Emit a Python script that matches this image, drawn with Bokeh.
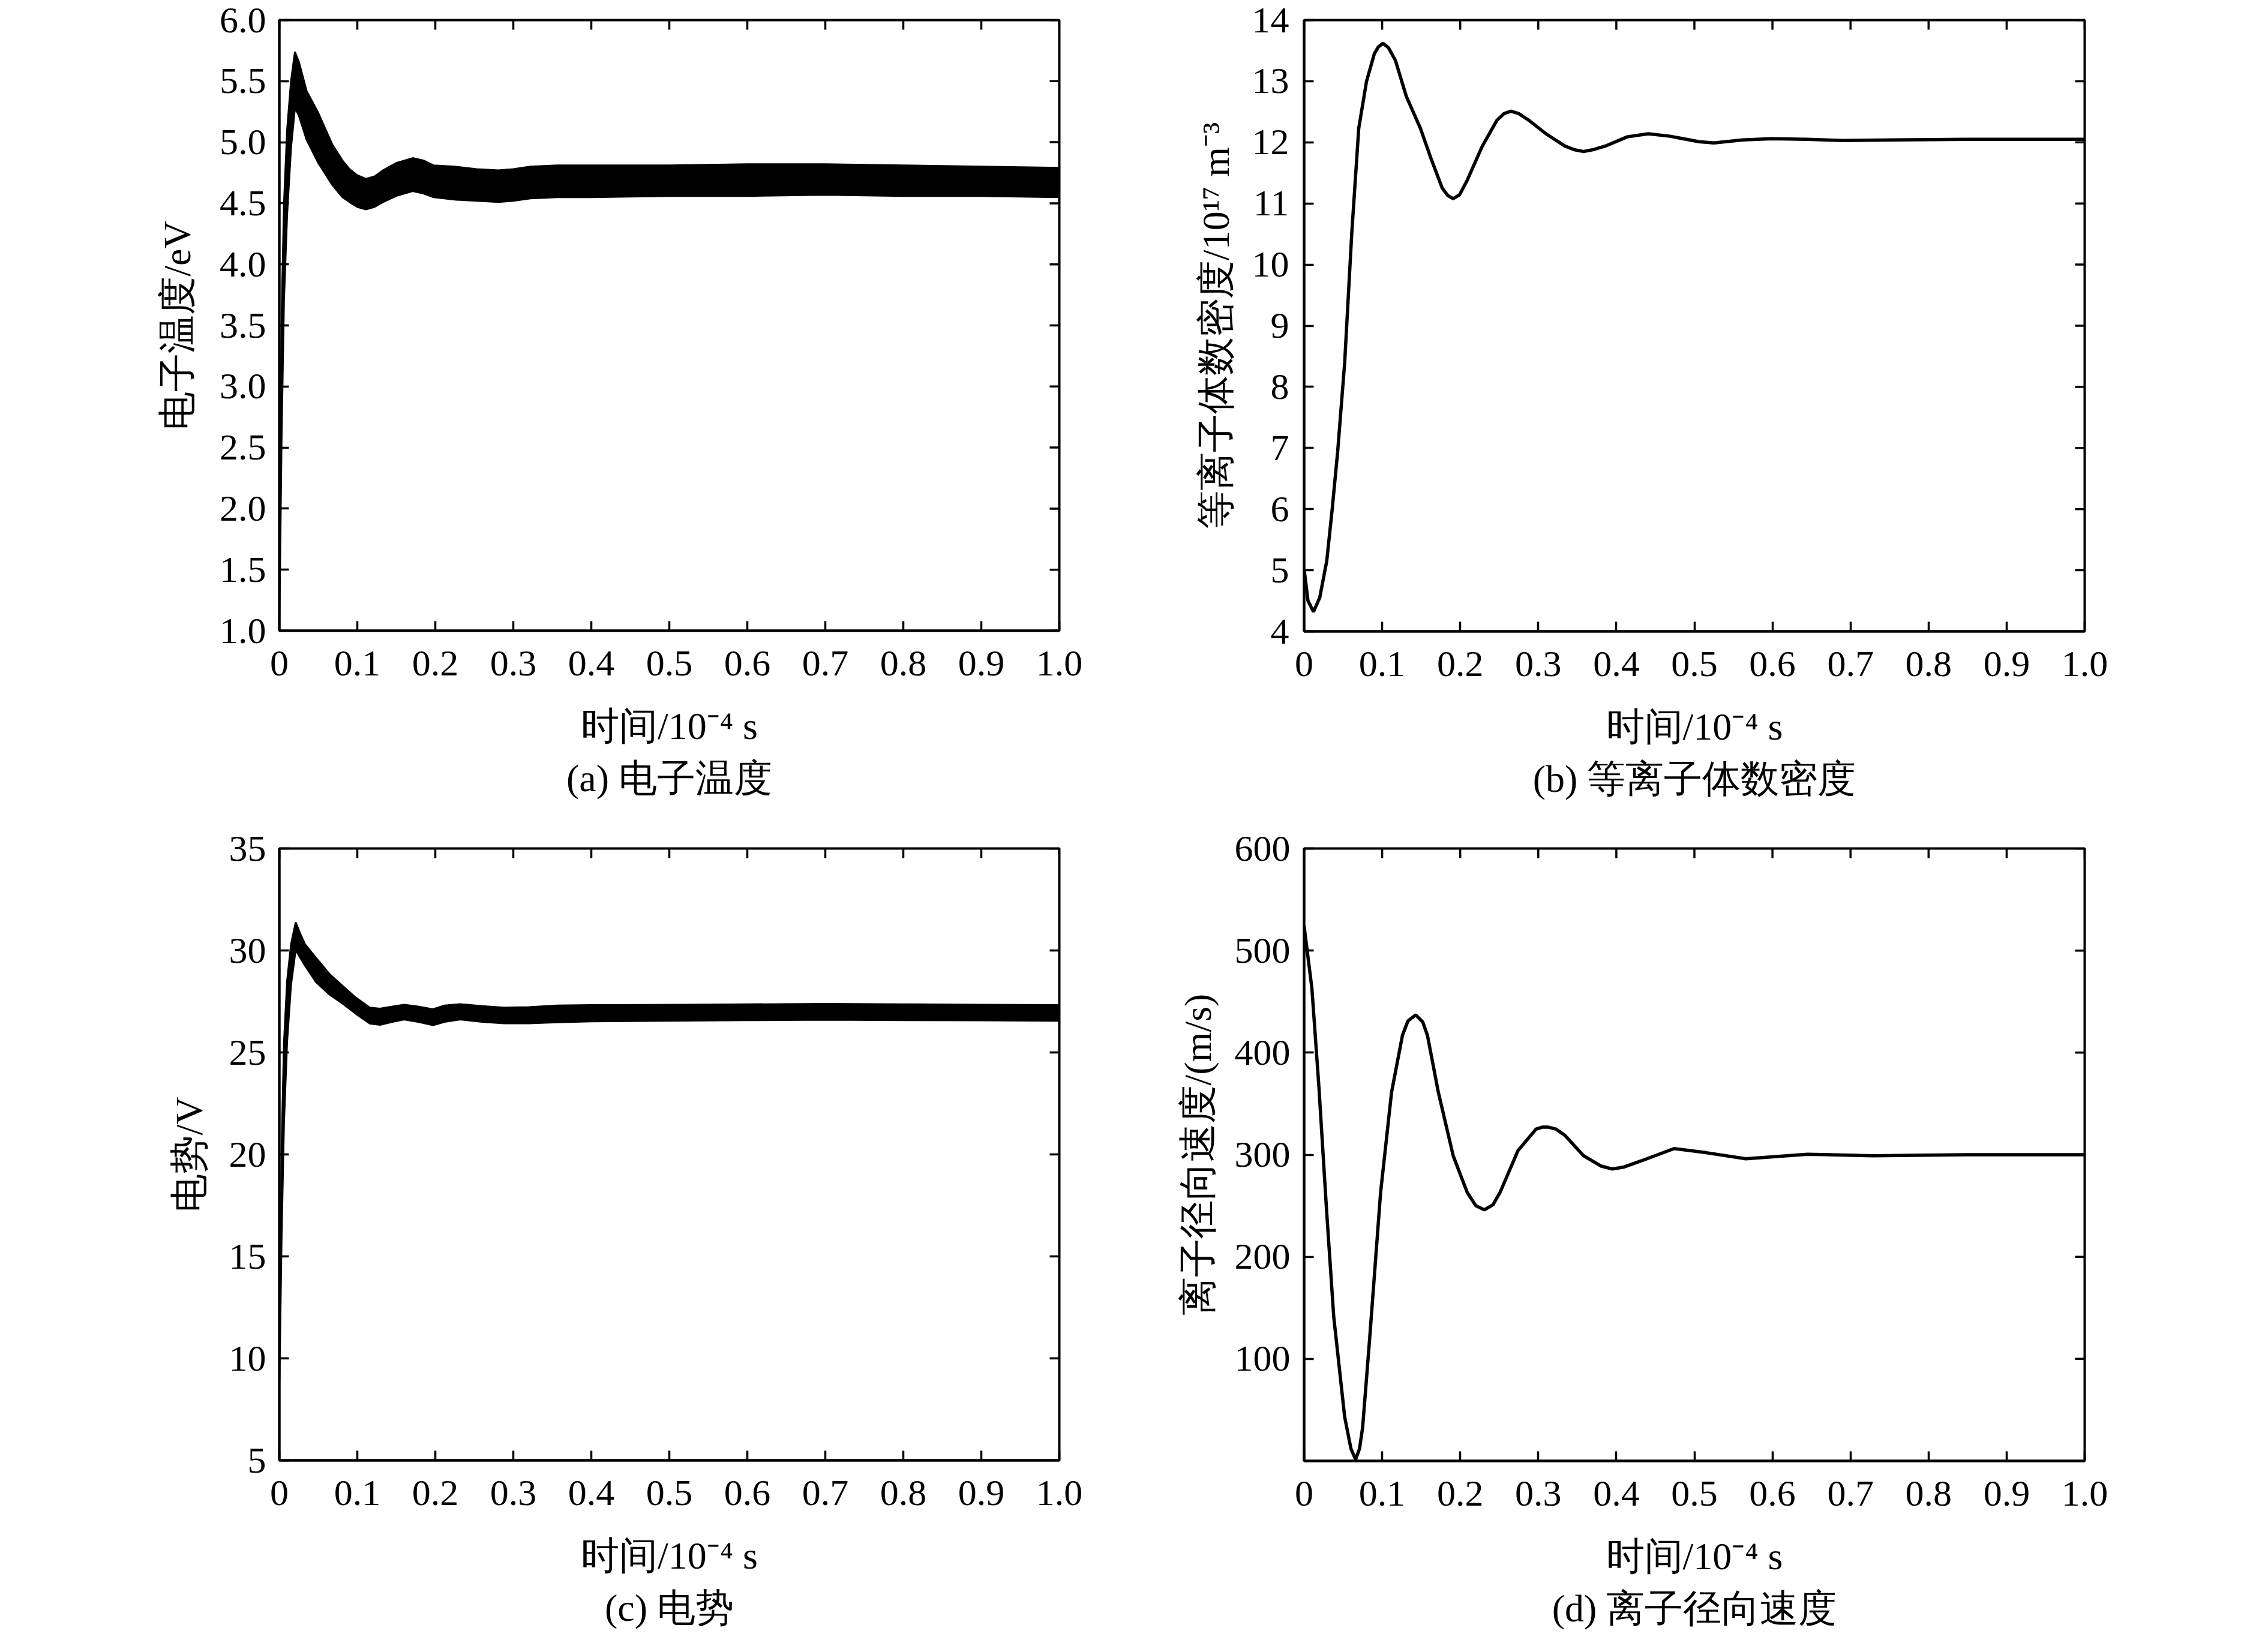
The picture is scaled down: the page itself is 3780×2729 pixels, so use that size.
import math
from bokeh.plotting import figure
from bokeh.models import Range1d, FixedTicker, Title
from bokeh.layouts import column, row
from bokeh.embed import file_html
from bokeh.resources import INLINE

FONT = "Liberation Serif"

x_ticks = [0, 0.1, 0.2, 0.3, 0.4, 0.5, 0.6, 0.7, 0.8, 0.9, 1.0]
x_tick_labels = ["0", "0.1", "0.2", "0.3", "0.4", "0.5", "0.6", "0.7", "0.8", "0.9", "1.0"]
x_label = "时间/10⁻⁴ s"

# (a) electron temperature: oscillation envelope (upper / lower)
te_x = [0.0, 0.003, 0.006, 0.010, 0.015, 0.020, 0.025, 0.035, 0.050, 0.068, 0.081, 0.090,
        0.100, 0.111, 0.122, 0.133, 0.150, 0.171, 0.185, 0.198, 0.225, 0.253, 0.281, 0.300,
        0.322, 0.356, 0.400, 0.500, 0.600, 0.700, 0.800, 0.900, 1.000]
te_upper = [1.8, 3.6, 4.5, 5.1, 5.5, 5.74, 5.66, 5.42, 5.24, 4.98, 4.85, 4.78,
            4.73, 4.70, 4.72, 4.77, 4.83, 4.87, 4.85, 4.81, 4.80, 4.78, 4.77, 4.78,
            4.80, 4.81, 4.81, 4.81, 4.82, 4.82, 4.81, 4.80, 4.79]
te_lower = [1.0, 2.6, 3.7, 4.4, 4.95, 5.28, 5.22, 5.02, 4.83, 4.65, 4.55, 4.51,
            4.47, 4.45, 4.47, 4.51, 4.56, 4.60, 4.58, 4.55, 4.53, 4.52, 4.51, 4.52,
            4.54, 4.55, 4.55, 4.56, 4.56, 4.57, 4.56, 4.56, 4.55]
te_ticks = [1.0, 1.5, 2.0, 2.5, 3.0, 3.5, 4.0, 4.5, 5.0, 5.5, 6.0]
te_tick_labels = ["1.0", "1.5", "2.0", "2.5", "3.0", "3.5", "4.0", "4.5", "5.0", "5.5", "6.0"]

# (b) plasma number density
n_x = [0.0, 0.005, 0.012, 0.020, 0.029, 0.036, 0.043, 0.052, 0.061, 0.070, 0.080, 0.090,
       0.095, 0.101, 0.108, 0.117, 0.131, 0.149, 0.163, 0.177, 0.184, 0.191, 0.199, 0.209,
       0.228, 0.247, 0.256, 0.265, 0.275, 0.288, 0.311, 0.334, 0.346, 0.358, 0.370, 0.386,
       0.414, 0.441, 0.469, 0.506, 0.525, 0.562, 0.599, 0.645, 0.691, 0.756, 0.850, 1.000]
n_y = [5.02, 4.50, 4.32, 4.55, 5.15, 6.0, 6.94, 8.4, 10.5, 12.23, 13.0, 13.45,
       13.56, 13.62, 13.55, 13.34, 12.75, 12.23, 11.72, 11.25, 11.13, 11.08, 11.14, 11.38,
       11.93, 12.36, 12.47, 12.51, 12.47, 12.36, 12.13, 11.94, 11.88, 11.85, 11.88, 11.94,
       12.09, 12.14, 12.10, 12.01, 11.99, 12.04, 12.06, 12.05, 12.03, 12.04, 12.05, 12.05]
n_ticks = [4, 5, 6, 7, 8, 9, 10, 11, 12, 13, 14]
n_tick_labels = ["4", "5", "6", "7", "8", "9", "10", "11", "12", "13", "14"]

# (c) potential: oscillation envelope
phi_x = [0.0, 0.003, 0.006, 0.010, 0.015, 0.021, 0.026, 0.033, 0.047, 0.064, 0.081, 0.098,
         0.116, 0.129, 0.145, 0.160, 0.178, 0.197, 0.212, 0.232, 0.260, 0.288, 0.320, 0.356,
         0.400, 0.517, 0.600, 0.700, 0.800, 0.900, 1.000]
phi_upper = [10.0, 20.5, 25.5, 28.5, 30.3, 31.38, 30.9, 30.3, 29.64, 28.86, 28.27, 27.69,
             27.20, 27.15, 27.25, 27.34, 27.25, 27.12, 27.30, 27.37, 27.27, 27.20, 27.22, 27.30,
             27.32, 27.34, 27.36, 27.38, 27.36, 27.34, 27.32]
phi_lower = [8.5, 16.0, 21.5, 25.5, 28.3, 30.03, 29.7, 29.25, 28.45, 27.85, 27.40, 26.90,
             26.42, 26.35, 26.50, 26.62, 26.50, 26.34, 26.50, 26.62, 26.50, 26.43, 26.43, 26.48,
             26.52, 26.56, 26.58, 26.60, 26.58, 26.57, 26.55]
phi_ticks = [5, 10, 15, 20, 25, 30, 35]
phi_tick_labels = ["5", "10", "15", "20", "25", "30", "35"]

# (d) ion radial velocity
v_x = [0.0, 0.010, 0.019, 0.029, 0.038, 0.052, 0.060, 0.066, 0.071, 0.075, 0.084, 0.098,
       0.112, 0.126, 0.133, 0.143, 0.152, 0.158, 0.172, 0.191, 0.209, 0.220, 0.231, 0.242,
       0.251, 0.274, 0.297, 0.305, 0.313, 0.323, 0.334, 0.358, 0.380, 0.395, 0.410, 0.432,
       0.474, 0.515, 0.566, 0.645, 0.728, 0.850, 1.000]
v_y = [524, 463, 366, 243, 141, 43, 12, 1.5, 12, 33, 120, 263,
       361, 417, 431, 437, 430, 417, 361, 299, 263, 250, 246, 251,
       263, 304, 325, 327, 327, 325, 319, 299, 289, 286, 288, 294,
       306, 302, 296, 300.5, 299, 300, 300]
v_ticks = [100, 200, 300, 400, 500, 600]
v_tick_labels = ["100", "200", "300", "400", "500", "600"]


def make_fig(yr, y_ticks, y_labels, ylabel, caption, borders, frame, ylab_standoff, ylab_tick_standoff):
    bl, br, bt, bb = borders
    fw, fh = frame
    p = figure(frame_width=fw, frame_height=fh,
               x_range=Range1d(0, 1), y_range=Range1d(*yr),
               output_backend="svg", toolbar_location=None,
               min_border_left=bl, min_border_right=br,
               min_border_top=bt, min_border_bottom=bb,
               background_fill_color="white", border_fill_color="white")
    p.grid.visible = False
    p.outline_line_color = "black"
    p.outline_line_width = 4
    p.xaxis.ticker = FixedTicker(ticks=x_ticks)
    p.xaxis.major_label_overrides = dict(zip(x_ticks, x_tick_labels))
    p.yaxis.ticker = FixedTicker(ticks=y_ticks)
    p.yaxis.major_label_overrides = dict(zip(y_ticks, y_labels))
    p.xaxis.axis_label = x_label
    p.yaxis.axis_label = ylabel
    for ax in (p.xaxis[0], p.yaxis[0]):
        ax.axis_line_width = 4
        ax.axis_line_color = "black"
        ax.major_tick_in = 16
        ax.major_tick_out = 0
        ax.major_tick_line_width = 3.5
        ax.minor_tick_line_color = None
        ax.major_label_text_font = FONT
        ax.major_label_text_font_size = "62px"
        ax.major_label_text_color = "black"
        ax.axis_label_text_font = FONT
        ax.axis_label_text_font_size = "64px"
        ax.axis_label_text_font_style = "normal"
        ax.axis_label_text_color = "black"
    p.xaxis.major_label_standoff = 34
    p.xaxis.axis_label_standoff = 46
    p.yaxis.major_label_standoff = ylab_tick_standoff
    p.yaxis.axis_label_standoff = ylab_standoff
    # mirrored inward ticks on the top and right edges
    y0, y1 = yr
    p.scatter(x=x_ticks, y=[y1] * len(x_ticks), marker="dash", size=32,
              angle=math.pi / 2, line_color="black", line_width=3.5)
    p.scatter(x=[1.0] * len(y_ticks), y=y_ticks, marker="dash", size=32,
              line_color="black", line_width=3.5)
    t = Title(text=caption, align="center", text_font=FONT, text_font_size="64px",
              text_font_style="normal", text_color="black", standoff=23)
    p.add_layout(t, "below")
    return p


pa = make_fig((1, 6), te_ticks, te_tick_labels, "电子温度/eV", "(a) 电子温度",
              (465, 118, 31, 307), (1300, 1018), 32, 22)
pa.varea(x=te_x, y1=te_lower, y2=te_upper, fill_color="black")
pa.line(te_x, te_upper, line_color="black", line_width=3)
pa.line(te_x, te_lower, line_color="black", line_width=3)

pb = make_fig((4, 14), n_ticks, n_tick_labels, "等离子体数密度/10¹⁷ m⁻³", "(b) 等离子体数密度",
              (290, 291, 33, 304), (1301, 1019), 22, 25)
pb.line(n_x, n_y, line_color="black", line_width=5.5)

pc = make_fig((5, 35), phi_ticks, phi_tick_labels, "电势/V", "(c) 电势",
              (465, 118, 51, 285), (1300, 1020), 28, 22)
pc.varea(x=phi_x, y1=phi_lower, y2=phi_upper, fill_color="black")
pc.line(phi_x, phi_upper, line_color="black", line_width=3)
pc.line(phi_x, phi_lower, line_color="black", line_width=3)

pd = make_fig((0, 600), v_ticks, v_tick_labels, "离子径向速度/(m/s)", "(d) 离子径向速度",
              (290, 291, 58, 277), (1301, 1021), 23, 23)
pd.line(v_x, v_y, line_color="black", line_width=5.5)

layout = column(row(pa, pb), row(pc, pd))
open("out.html", "w").write(file_html(layout, INLINE))
